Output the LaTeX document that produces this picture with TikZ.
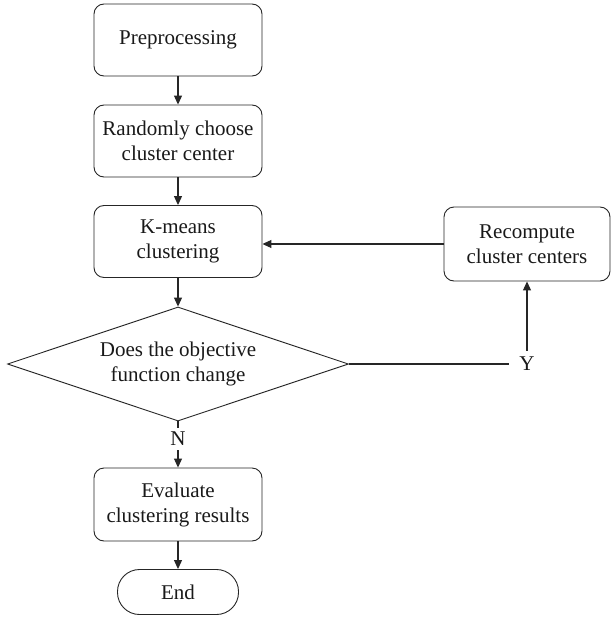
\documentclass[tikz,border=0pt]{standalone}
\usepackage{fontspec}
\setmainfont{Liberation Serif}
\usetikzlibrary{shapes.geometric,arrows.meta}
\begin{document}
\begin{tikzpicture}[x=1pt,y=-1pt,
  txt/.style={font=\fontsize{21}{25}\selectfont, text=black!90},
  box/.style={txt, draw=black!85, line width=0.9pt, rounded corners=10pt,
    minimum width=168pt, minimum height=72pt, align=center, inner sep=0pt},
  term/.style={box, rounded corners=22pt, minimum width=121pt, minimum height=45pt},
  dec/.style={txt, draw=black!85, line width=0.9pt, shape=diamond, aspect=3,
    minimum width=341pt, minimum height=114pt, align=center, inner sep=0pt},
  lbl/.style={txt, inner sep=4pt},
  arr/.style={draw=black!85, line width=1.1pt, -{Triangle[width=8pt,length=9pt]}},
  ln/.style={draw=black!85, line width=1.1pt}]
\useasboundingbox (0,0) rectangle (610,618);
\node[box] (pre) at (178,40) {Preprocessing};
\node[box] (rand) at (178,141) {Randomly choose\\cluster center};
\node[box] (km) at (178,241.5) {K-means\\clustering};
\node[dec] (dec) at (178,364) {Does the objective\\function change};
\node[box, minimum width=166pt, minimum height=74pt] (rec) at (527,244) {Recompute\\cluster centers};
\node[lbl, inner xsep=10pt, inner ysep=6pt] (y) at (527,364) {Y};
\node[lbl] (n) at (178,439) {N};
\node[box, minimum height=73pt] (eval) at (178,504.5) {Evaluate\\clustering results};
\node[term] (end) at (178,592) {End};
\draw[arr] (pre) -- (rand);
\draw[arr] (rand) -- (km);
\draw[arr] (km) -- (dec);
\draw[ln] (dec.south) -- (n.north);
\draw[arr] (n.south) -- (eval);
\draw[arr] (eval) -- (end);
\draw[ln] (dec.east) -- (y.west);
\draw[arr] (y.north) -- (y.north |- rec.south);
\draw[arr] (rec.west) -- (rec.west -| km.east);
\end{tikzpicture}
\end{document}
